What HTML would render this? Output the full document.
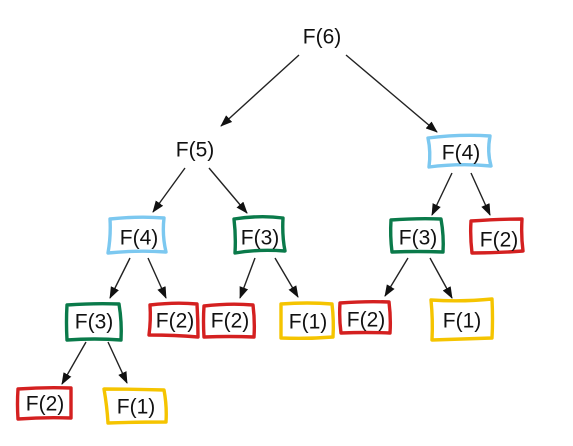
<!DOCTYPE html>
<html><head><meta charset="utf-8"><style>
html,body{margin:0;padding:0;background:#fff;}
svg{display:block;}
text{font-family:"Liberation Sans",sans-serif;font-size:21px;fill:#111;text-anchor:middle;dominant-baseline:central;}
.b{fill:none;stroke-width:3.4;stroke-linejoin:round;}
.a{stroke:#222;stroke-width:1.4;marker-end:url(#ah);}
</style></head><body>
<svg width="573" height="446" viewBox="0 0 573 446" xmlns="http://www.w3.org/2000/svg">
<defs><marker id="ah" markerWidth="12" markerHeight="9" refX="11" refY="4.5" orient="auto" markerUnits="userSpaceOnUse"><path d="M0,0 L12,4.5 L0,9 z" fill="#111"/></marker></defs>
<line class="a" x1="299" y1="55" x2="221" y2="126"/>
<line class="a" x1="346" y1="55" x2="437" y2="132"/>
<line class="a" x1="185" y1="168" x2="153" y2="212"/>
<line class="a" x1="209" y1="168" x2="247" y2="213"/>
<line class="a" x1="130" y1="258" x2="110" y2="298"/>
<line class="a" x1="148" y1="258" x2="166" y2="298"/>
<line class="a" x1="255" y1="258" x2="240" y2="298"/>
<line class="a" x1="275" y1="258" x2="298" y2="297"/>
<line class="a" x1="452" y1="173" x2="432" y2="215"/>
<line class="a" x1="471" y1="173" x2="490" y2="215"/>
<line class="a" x1="408" y1="258" x2="385" y2="296"/>
<line class="a" x1="430" y1="258" x2="452" y2="298"/>
<line class="a" x1="86" y1="342" x2="62" y2="384"/>
<line class="a" x1="108" y1="342" x2="127" y2="383"/>
<path class="b" stroke="#7cc8f0" d="M428,138 Q460,134 490,136 Q487,152 491,166 Q460,163 429,167 Q431,152 428,138 z"/>
<path class="b" stroke="#7cc8f0" d="M110,219 Q138,216 164,218 Q162,235 166,252 Q138,250 108,253 Q111,236 110,219 z"/>
<path class="b" stroke="#0a7a4a" d="M234,219 Q260,215 283,218 Q282,236 285,251 Q258,249 235,253 Q236,236 234,219 z"/>
<path class="b" stroke="#0a7a4a" d="M391,220 Q418,218 441,219 Q444,236 443,252 Q418,251 392,252 Q390,236 391,220 z"/>
<path class="b" stroke="#d42020" d="M471,221 Q498,219 522,219 Q521,236 523,251 Q498,253 472,253 Q470,236 471,221 z"/>
<path class="b" stroke="#0a7a4a" d="M67,305 Q95,303 119,304 Q122,322 121,340 Q95,338 67,340 Q66,322 67,305 z"/>
<path class="b" stroke="#d42020" d="M150,305 Q175,302 197,304 Q198,320 198,337 Q175,335 149,335 Q151,320 150,305 z"/>
<path class="b" stroke="#d42020" d="M204,306 Q230,303 253,305 Q255,321 254,337 Q230,336 204,337 Q203,321 204,306 z"/>
<path class="b" stroke="#f5c400" d="M281,304 Q308,302 332,304 Q334,321 333,337 Q308,339 281,338 Q281,321 281,304 z"/>
<path class="b" stroke="#d42020" d="M340,303 Q366,301 389,302 Q391,318 390,333 Q366,332 341,333 Q339,318 340,303 z"/>
<path class="b" stroke="#f5c400" d="M431,300 Q462,302 492,299 Q493,320 492,338 Q462,339 432,340 Q433,320 431,300 z"/>
<path class="b" stroke="#d42020" d="M18,389 Q45,387 71,388 Q71,404 71,418 Q45,417 18,419 Q17,404 18,389 z"/>
<path class="b" stroke="#f5c400" d="M104,389 Q135,389 164,390 Q167,406 166,422 Q135,422 108,423 Q107,406 104,389 z"/>
<text x="322" y="37">F(6)</text>
<text x="195" y="150">F(5)</text>
<text x="461" y="153">F(4)</text>
<text x="139" y="238">F(4)</text>
<text x="260" y="238">F(3)</text>
<text x="418" y="238">F(3)</text>
<text x="499" y="240">F(2)</text>
<text x="94" y="322">F(3)</text>
<text x="175" y="321">F(2)</text>
<text x="230" y="321">F(2)</text>
<text x="308" y="322">F(1)</text>
<text x="366" y="320">F(2)</text>
<text x="462" y="321">F(1)</text>
<text x="45" y="404">F(2)</text>
<text x="136" y="407">F(1)</text>
</svg>
</body></html>
